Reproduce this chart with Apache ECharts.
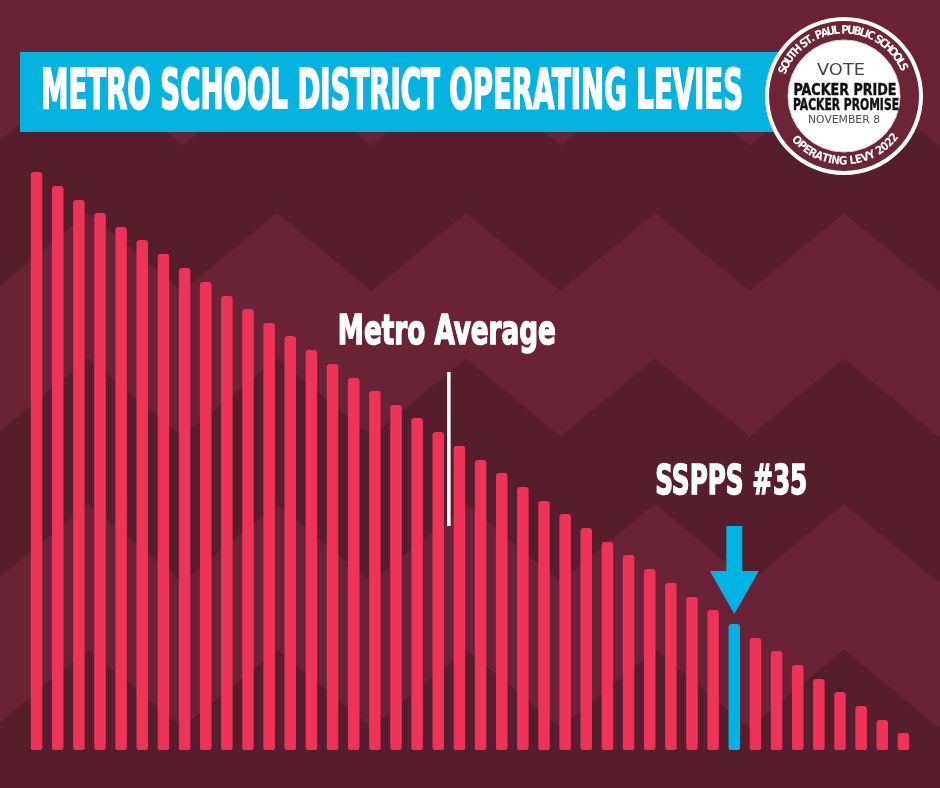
<!DOCTYPE html>
<html>
<head>
<meta charset="utf-8">
<script src="https://cdn.jsdelivr.net/npm/echarts/dist/echarts.min.js"></script>
<style>
  html, body { margin: 0; padding: 0; background: #561e2c; }
  #main { width: 940px; height: 788px; }
</style>
</head>
<body>
<div id="main"></div>
<script>
// ---- data ----
const ranks = ['1', '2', '3', '4', '5', '6', '7', '8', '9', '10', '11', '12', '13', '14',
  '15', '16', '17', '18', '19', '20', '21', '22', '23', '24', '25', '26', '27', '28',
  '29', '30', '31', '32', '33', '34', '35', '36', '37', '38', '39', '40', '41', '42'];
const levyValues = [578, 564, 550, 537, 523, 510, 496, 482, 468, 454, 441, 427, 414, 400,
  386, 372, 359, 345, 332, 318, 304, 290, 277, 263, 249, 236, 222, 208,
  195, 181, 167, 153, 140, 126, 112, 99, 85, 71, 58, 44, 30, 17];
const ssppsIndex = 33;            // highlighted district bar
const metroAvgPos = [20];         // boundary between ranks 20 and 21
const metroAvgSpan = [224, 378];  // vertical extent of the marker line

const titleText = 'METRO SCHOOL DISTRICT OPERATING LEVIES';
const avgLabel = 'Metro Average';
const ssppsLabel = 'SSPPS #35';

// ---- colours ----
const bgDark = '#561e2c';
const bgLight = '#6a2336';
const barRed = '#ef3358';
const barBlue = '#00b3e3';
const bannerBlue = '#05b3e1';
const condensed = '"DejaVu Sans Condensed", "Liberation Sans Narrow", sans-serif';

const measureCtx = document.createElement('canvas').getContext('2d');

// text squeezed horizontally to a target width (poster font is very condensed)
function squeezedText(text, cx, cy, size, width, fill, opts) {
  opts = opts || {};
  const font = (opts.weight || 'bold') + ' ' + size + 'px ' + (opts.family || condensed);
  measureCtx.font = font;
  const w = measureCtx.measureText(text).width;
  return {
    type: 'text', x: cx, y: cy, scaleX: width / w, z: opts.z || 20,
    style: {
      text: text, font: font, fill: fill, align: 'center', verticalAlign: 'middle',
      stroke: opts.stroke ? fill : null, lineWidth: opts.stroke || 0
    }
  };
}

// background chevrons
function zigzag(k) {
  const pts = [];
  const y = -78 + 145.5 * k;
  for (let m = -2; m <= 7; m++) {
    pts.push([88 + 189 * m, y]);
    pts.push([88 + 189 * m + 94.5, y + 78]);
  }
  return pts;
}
const bgShapes = [];
[0, 2, 4].forEach(function (k) {
  const pts = zigzag(k).concat(zigzag(k + 1).reverse());
  bgShapes.push({ type: 'polygon', z: -10, silent: true, shape: { points: pts }, style: { fill: bgLight } });
});

// badge
const badgeCx = 844, badgeCy = 96;
function arcText(text, radius, centerDeg, spanDeg, bottom, font) {
  measureCtx.font = font;
  const chars = text.split('');
  const widths = chars.map(function (c) { return measureCtx.measureText(c).width; });
  const total = widths.reduce(function (a, b) { return a + b; }, 0);
  let acc = 0;
  return chars.map(function (c, i) {
    const frac = (acc + widths[i] / 2) / total;
    acc += widths[i];
    const deg = bottom ? centerDeg - spanDeg / 2 + frac * spanDeg : centerDeg + spanDeg / 2 - frac * spanDeg;
    const th = deg * Math.PI / 180;
    return {
      type: 'text', z: 34,
      x: badgeCx + radius * Math.cos(th), y: badgeCy - radius * Math.sin(th),
      rotation: bottom ? th + Math.PI / 2 : th - Math.PI / 2,
      style: { text: c, font: font, fill: '#ffffff', align: 'center', verticalAlign: 'middle' }
    };
  });
}

const ringFont = 'bold 11.5px "DejaVu Sans Condensed", sans-serif';
const badge = [
  { type: 'circle', z: 30, shape: { cx: badgeCx, cy: badgeCy, r: 79 }, style: { fill: '#ffffff' } },
  { type: 'circle', z: 31, shape: { cx: badgeCx, cy: badgeCy, r: 75 }, style: { fill: '#6b2537' } },
  { type: 'circle', z: 32, shape: { cx: badgeCx, cy: badgeCy, r: 56 }, style: { fill: '#ffffff', stroke: '#d8d2d3', lineWidth: 1 } },
  squeezedText('VOTE', badgeCx - 3, 71, 16, 48, '#444444', { weight: 'normal', family: '"DejaVu Sans", sans-serif', z: 34 }),
  squeezedText('PACKER PRIDE', badgeCx + 1, 91, 15, 103, '#111111', { z: 34, stroke: 0.4 }),
  squeezedText('PACKER PROMISE', badgeCx + 2, 106, 15, 106, '#111111', { z: 34, stroke: 0.4 }),
  squeezedText('NOVEMBER 8', badgeCx, 120, 10, 72, '#4a4a4a', { weight: 'normal', family: '"DejaVu Sans", sans-serif', z: 34 })
].concat(arcText('SOUTH ST. PAUL PUBLIC SCHOOLS', 65.5, 91.5, 136, false, ringFont))
 .concat(arcText('OPERATING LEVY 2022', 65.5, 271.5, 103, true, ringFont));

const chart = echarts.init(document.getElementById('main'), null, { renderer: 'canvas' });

const option = {
  backgroundColor: bgDark,
  animation: false,
  grid: { left: 26, right: 26, top: 150, bottom: 38 },
  xAxis: [
    { type: 'category', data: ranks, show: false },
    { type: 'value', min: 0, max: ranks.length, show: false }
  ],
  yAxis: { type: 'value', min: 0, max: 600, show: false },
  series: [
    {
      name: 'Operating levy',
      type: 'bar',
      barWidth: 11.5,
      z: 3,
      data: levyValues.map(function (v, i) {
        return { value: v, itemStyle: { color: i === ssppsIndex ? barBlue : barRed } };
      }),
      itemStyle: { borderRadius: [3, 3, 2, 2] },
      markPoint: {
        silent: true,
        symbol: 'path://M16.5,0 L32.5,0 L32.5,45 L49,45 L24.5,88 L0,45 L16.5,45 Z',
        symbolSize: [49, 88],
        symbolOffset: [0, -54],
        itemStyle: { color: barBlue },
        label: { show: false },
        data: [{ coord: [ssppsIndex, levyValues[ssppsIndex]] }]
      }
    },
    {
      name: 'Metro average',
      type: 'line',
      xAxisIndex: 1,
      symbol: 'none',
      silent: true,
      lineStyle: { color: '#ffffff', width: 3.5, cap: 'butt' },
      data: [[metroAvgPos[0], metroAvgSpan[0]], [metroAvgPos[0], metroAvgSpan[1]]]
    }
  ]
};
chart.setOption(option);

// annotation positions from the chart's own scales
const avgTop = chart.convertToPixel({ xAxisIndex: 1, yAxisIndex: 0 }, [metroAvgPos[0], metroAvgSpan[1]]);
const ssppsTop = chart.convertToPixel({ seriesIndex: 0 }, [ssppsIndex, levyValues[ssppsIndex]]);

chart.setOption({
  graphic: bgShapes.concat([
    { type: 'rect', z: 10, shape: { x: 20, y: 52, width: 760, height: 80 }, style: { fill: bannerBlue } },
    squeezedText(titleText, 392, 93, 56, 702, '#ffffff', { stroke: 2, z: 12 }),
    squeezedText(avgLabel, avgTop[0] - 2, avgTop[1] - 39, 41, 218, '#ffffff', { stroke: 1.5 }),
    squeezedText(ssppsLabel, ssppsTop[0] - 3, ssppsTop[1] - 141, 41, 152, '#ffffff', { stroke: 1.5 })
  ]).concat(badge)
});
</script>
</body>
</html>
